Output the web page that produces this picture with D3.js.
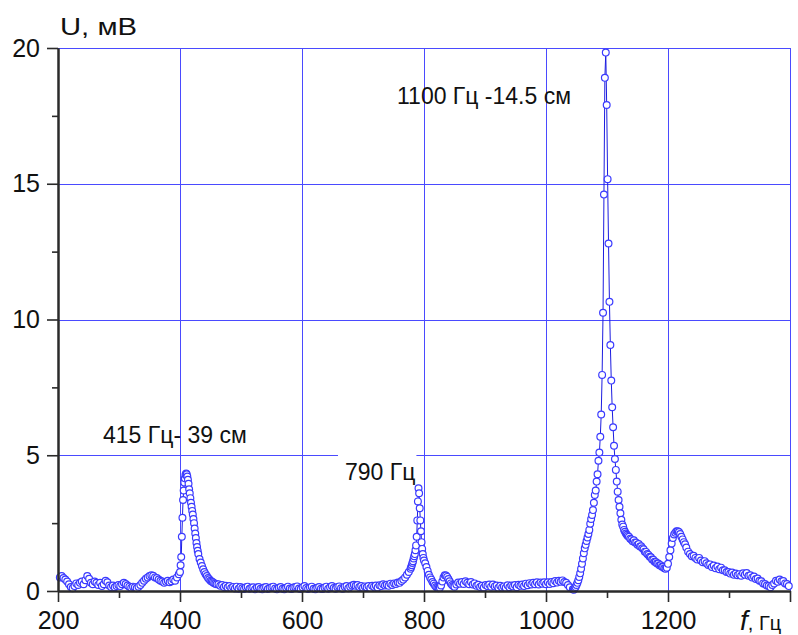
<!DOCTYPE html>
<html>
<head>
<meta charset="utf-8">
<script src="https://cdn.jsdelivr.net/npm/d3@7/dist/d3.min.js"></script>
<style>
  html, body { margin: 0; padding: 0; background: #fff; }
  svg { display: block; font-family: "Liberation Sans", Arial, sans-serif; }
</style>
</head>
<body>
<div id="chart"></div>
<script>
// Frequency response of the resonator: U (mV) vs f (Hz).
// Each measured block: first frequency, frequency step, readings.
const band200     = { start: 203,  step: 3,   values: [
  0.50,0.55,0.48,0.42,0.35,0.25,0.15,0.10,0.18,0.28,
  0.22,0.30,0.35,0.25,0.40,0.55,0.45,0.30,0.25,0.35,
  0.30,0.22,0.30,0.18,0.25,0.38,0.32,0.20,0.15,0.20,
  0.14,0.18,0.22,0.18,0.25,0.30,0.26,0.20,0.16,0.12,
  0.16,0.14,0.10,0.16,0.22,0.30,0.38,0.45,0.50,0.55,
  0.58,0.56,0.50,0.48,0.42,0.38,0.35,0.30,0.34,0.38,
  0.32,0.36,0.42,0.38,0.50,0.62] };
const peak415     = { start: 400,  step: 1,   values: [
  0.70,0.95,1.25,2.00,2.70,3.35,3.70,4.00,4.15,4.28,
  4.33,4.30,4.22,4.10,3.95,3.75,3.60,3.42,3.25,3.10,
  2.95,2.82,2.65,2.50,2.30,2.12,1.95,1.77,1.62,1.48,
  1.36] };
const tail415     = { start: 432,  step: 2,   values: [
  1.18,1.05,0.92,0.80,0.70,0.62,0.55,0.48,0.43,0.38,
  0.35,0.32,0.29,0.27,0.25] };
const band460     = { start: 463,  step: 3,   values: [
  0.25,0.19,0.22,0.15,0.19,0.13,0.18,0.11,0.15,0.09,
  0.16,0.08,0.15,0.10,0.07,0.14,0.16,0.08,0.12,0.14,
  0.06,0.13,0.15,0.08,0.06,0.13,0.15,0.07,0.11,0.14,
  0.16,0.09,0.06,0.12,0.15,0.08,0.06,0.12,0.16,0.09,
  0.07,0.13,0.15,0.17,0.09,0.07,0.14,0.18,0.11,0.07,
  0.13,0.16,0.08,0.06,0.12,0.15,0.08,0.07,0.13,0.16,
  0.08,0.14,0.18,0.11,0.08,0.15,0.17,0.10,0.08,0.16,
  0.18,0.10,0.16,0.20,0.23,0.19,0.22,0.15,0.18,0.12,
  0.17,0.14,0.18,0.11,0.19,0.16,0.20,0.13,0.21,0.18,
  0.25,0.20,0.23,0.19,0.27,0.22,0.28,0.26,0.31,0.30,
  0.37,0.42,0.50,0.60,0.70,0.82] };
const peak790     = { start: 779,  step: 1,   values: [
  0.88,0.95,1.03,1.10,1.20,1.28,1.36,1.50,1.68,2.00,
  2.60,3.30,3.78,3.60,3.05,2.60,2.20,1.80,1.55,1.36,
  1.22,1.12] };
const tail790     = { start: 802,  step: 2,   values: [
  1.02,0.88,0.74,0.60,0.50,0.42,0.33,0.27,0.20,0.15,
  0.12,0.10,0.12,0.20,0.35,0.50,0.58,0.57,0.52,0.44,
  0.36,0.28,0.22,0.18,0.16] };
const band850     = { start: 853,  step: 3,   values: [
  0.24,0.31,0.27,0.33,0.26,0.36,0.30,0.25,0.33,0.24,
  0.28,0.19,0.23,0.15,0.19,0.13,0.22,0.18,0.24,0.16,
  0.24,0.17,0.20,0.12,0.19,0.13,0.17,0.12,0.21,0.14,
  0.20,0.17,0.22,0.14,0.23,0.19,0.24,0.18,0.27,0.21,
  0.29,0.24,0.30,0.25,0.32,0.24,0.31,0.27,0.32,0.25,
  0.32,0.26,0.33,0.29,0.37,0.31,0.38,0.34,0.39,0.33,
  0.30,0.22,0.14] };
const peak1100    = { start: 1044, step: 1.5, values: [
  0.06,0.05,0.10,0.15,0.22,0.30,0.40,0.52,0.65,0.82,
  1.00,1.20,1.39,1.57,1.70,1.84,1.97,2.10,2.25,2.48,
  2.65,2.80,2.98,3.25,3.54,3.70,4.03,4.30,4.80,5.10,
  5.68,6.50,7.96,10.25,14.60,18.90,19.83,17.90,15.17,12.80,
  10.65,9.06,7.75,6.77,6.03,5.35,4.86,4.46,4.03,3.66,
  3.35,3.10,2.86,2.62,2.45,2.37,2.25,2.18,2.12,2.07,
  2.03] };
const shoulder1200 = { start: 1136, step: 2,  values: [
  2.00,1.92,1.90,1.83,1.87,1.79,1.78,1.70,1.73,1.64,
  1.65,1.57,1.54,1.45,1.44,1.36,1.33,1.26,1.24,1.16,
  1.15,1.08,1.07,1.01,1.01,0.95,0.95,0.89,0.89,0.84,
  0.82,0.86,1.00,1.25,1.50,1.75,1.95,2.08,2.15,2.20,
  2.20,2.17,2.10,2.00,1.90,1.80,1.72,1.60] };
const tail1300    = { start: 1233, step: 3,   values: [
  1.45,1.36,1.28,1.30,1.22,1.16,1.22,1.12,1.06,1.10,
  1.02,0.96,0.98,0.88,0.94,0.84,0.90,0.80,0.86,0.76,
  0.76,0.70,0.70,0.64,0.68,0.60,0.64,0.58,0.62,0.56,
  0.65,0.60,0.66,0.56,0.58,0.50,0.53,0.44,0.46,0.38,
  0.36,0.28,0.26,0.20,0.18,0.14,0.22,0.28,0.38,0.34,
  0.42,0.36,0.37,0.28,0.26,0.18] };

const blocks = [band200, peak415, tail415, band460, peak790, tail790,
                band850, peak1100, shoulder1200, tail1300];

// Axis ticks and annotations
const xMajor = [200, 400, 600, 800, 1000, 1200, 1400];
const xMinor = [300, 500, 700, 900, 1100, 1300];
const yMajor = [0, 5, 10, 15, 20];
const yMinor = [2.5, 7.5, 12.5, 17.5];
const xGrid  = [400, 600, 800, 1000, 1200, 1400];
const yGrid  = [5, 10, 15, 20];
const notes = [
  { text: "415 Гц- 39 см",     f: 415,  boxed: false },
  { text: "790 Гц",            f: 790,  boxed: true  },
  { text: "1100 Гц -14.5 см",  f: 1100, boxed: false }
];

const data = [];
blocks.forEach(b => b.values.forEach((v, i) => data.push({ f: b.start + i * b.step, u: v })));
data.sort((a, b) => a.f - b.f);

const W = 798, H = 635;
const svg = d3.select("#chart").append("svg").attr("width", W).attr("height", H);

const x = d3.scaleLinear().domain([200, 1400]).range([58, 790]);
const y = d3.scaleLinear().domain([0, 20]).range([591, 48]);
const snap = v => Math.round(v) + 0.5;

const gridColor = "#4a4aff";
const grid = svg.append("g");
grid.selectAll(".gx").data(xGrid).join("line")
  .attr("x1", d => snap(x(d))).attr("x2", d => snap(x(d)))
  .attr("y1", y(0)).attr("y2", y(20))
  .attr("stroke", gridColor).attr("stroke-width", 1);
grid.selectAll(".gy").data(yGrid).join("line")
  .attr("y1", d => snap(y(d))).attr("y2", d => snap(y(d)))
  .attr("x1", x(200)).attr("x2", x(1400))
  .attr("stroke", gridColor).attr("stroke-width", 1);

// annotations (the boxed one hides the grid line behind it)
const noteStyle = sel => sel.attr("font-size", 23).attr("fill", "#111");
const notePos = {
  415:  { x: 103, y: 443 },
  790:  { x: 345, y: 480 },
  1100: { x: 397, y: 104 }
};
const noteG = svg.append("g");
notes.forEach(n => {
  const p = notePos[n.f];
  const t = noteG.append("text").attr("x", p.x).attr("y", p.y).text(n.text).call(noteStyle);
  if (n.boxed) {
    const bb = t.node().getBBox();
    noteG.insert("rect", "text")
      .attr("x", bb.x - 7).attr("y", bb.y - 8)
      .attr("width", bb.width + 8).attr("height", bb.height + 8)
      .attr("fill", "#fff");
  }
});

// measured curve
const line = d3.line().x(d => x(d.f)).y(d => y(d.u));
svg.append("path").datum(data)
  .attr("d", line).attr("fill", "none")
  .attr("stroke", "#1c1ce0").attr("stroke-width", 1);
svg.append("g").selectAll("circle").data(data).join("circle")
  .attr("cx", d => x(d.f)).attr("cy", d => y(d.u)).attr("r", 3.4)
  .attr("fill", "#fff").attr("stroke", "#3a3aff").attr("stroke-width", 1.2);

// axes
const axisColor = "#2a2a2a";
const styleAxis = g => {
  g.select(".domain").attr("stroke", axisColor).attr("stroke-width", 2);
  g.selectAll(".tick line").attr("stroke", axisColor).attr("stroke-width", 1.6);
  g.selectAll(".tick text").attr("fill", "#111").attr("font-size", 25)
    .attr("font-family", '"Liberation Sans", Arial, sans-serif');
};
svg.append("g").attr("transform", `translate(0,${y(0)})`)
  .call(d3.axisBottom(x).tickValues(xMinor).tickSize(7).tickSizeOuter(0).tickFormat(""))
  .call(styleAxis);
svg.append("g").attr("transform", `translate(0,${y(0)})`)
  .call(d3.axisBottom(x).tickValues(xMajor).tickSize(11).tickPadding(9).tickSizeOuter(0)
    .tickFormat(d => d === 1400 ? "" : d))
  .call(styleAxis);
svg.append("g").attr("transform", `translate(${x(200)},0)`)
  .call(d3.axisLeft(y).tickValues(yMinor).tickSize(6).tickSizeOuter(0).tickFormat(""))
  .call(styleAxis);
svg.append("g").attr("transform", `translate(${x(200)},0)`)
  .call(d3.axisLeft(y).tickValues(yMajor).tickSize(11).tickPadding(7).tickSizeOuter(0))
  .call(styleAxis);

// axis titles
svg.append("text").attr("x", 60).attr("y", 35)
  .attr("font-size", 23).attr("fill", "#111")
  .attr("textLength", 77).attr("lengthAdjust", "spacingAndGlyphs")
  .text("U, мВ");
const xt = svg.append("text").attr("x", 740).attr("y", 630).attr("fill", "#111");
xt.append("tspan").attr("font-size", 28).attr("font-style", "italic").text("f");
xt.append("tspan").attr("font-size", 20).text(", Гц");
</script>
</body>
</html>
